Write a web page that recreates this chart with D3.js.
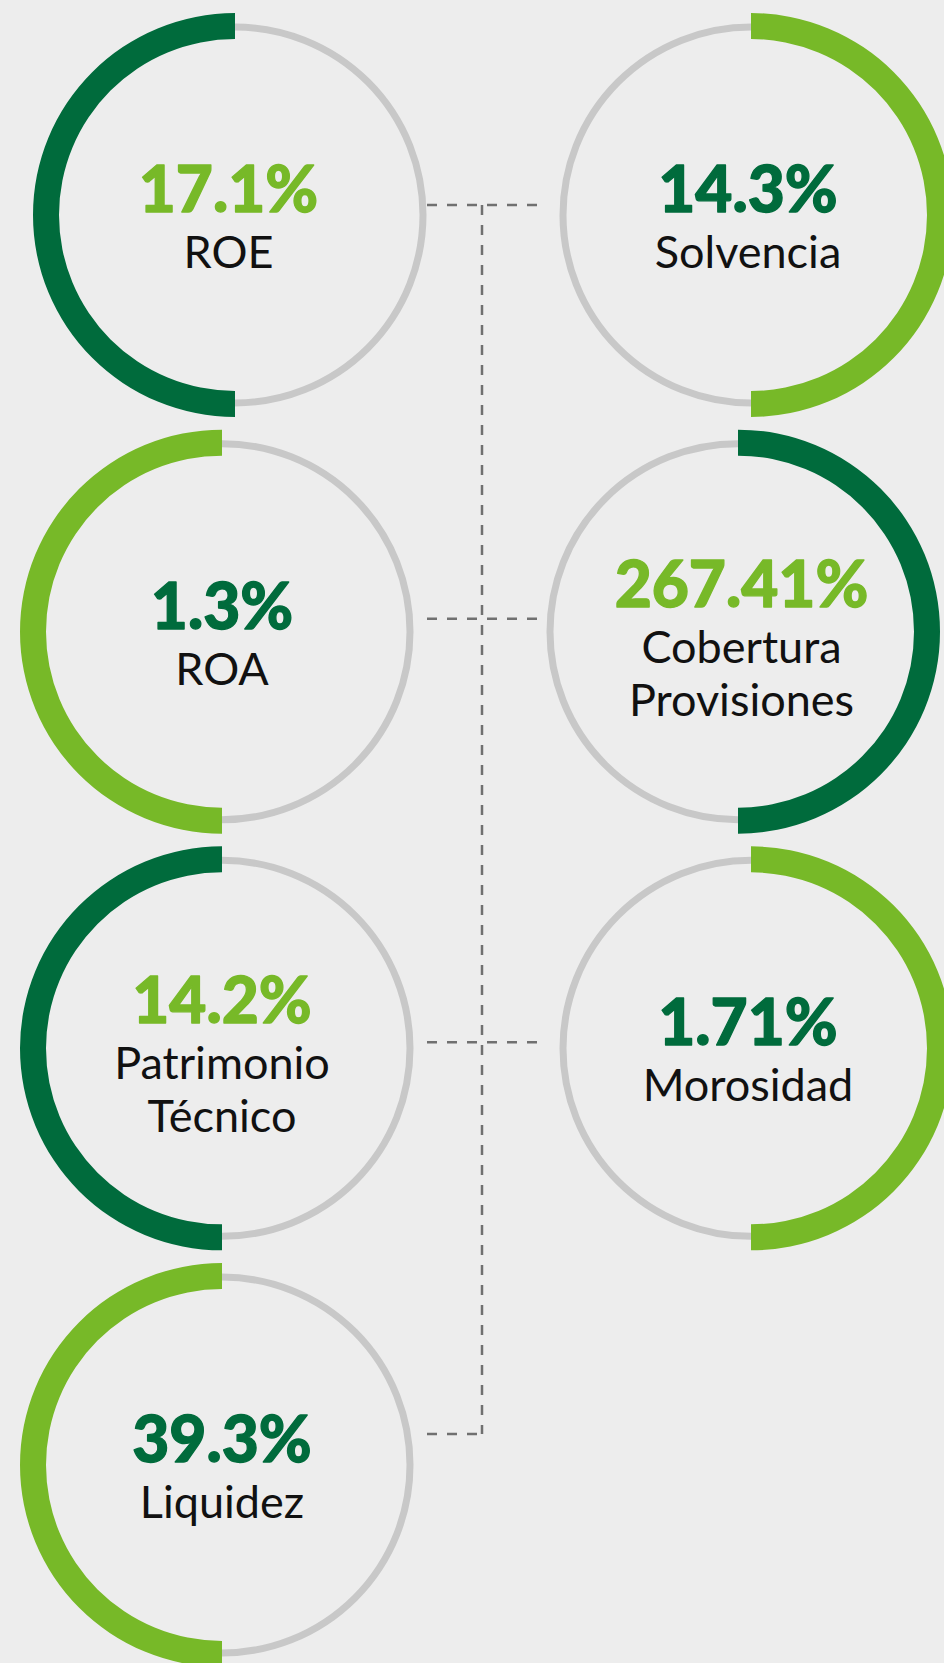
<!DOCTYPE html>
<html>
<head>
<meta charset="utf-8">
<script src="https://cdn.jsdelivr.net/npm/d3@7"></script>
<style>
    html, body { margin: 0; padding: 0; background: #ededed; }
    svg { display: block; }
</style>
</head>
<body>
<svg id="chart" width="944" height="1663"></svg>
<script>
// indicator data
const names = ['ROE', 'Solvencia', 'ROA', 'Cobertura\nProvisiones', 'Patrimonio\nTécnico', 'Morosidad', 'Liquidez'];
const values = [17.1, 14.3, 1.3, 267.41, 14.2, 1.71, 39.3];
const columns = ['left', 'right', 'left', 'right', 'left', 'right', 'left'];
const rows = [0, 0, 1, 1, 2, 2, 3];
const arcTone = ['dark', 'light', 'light', 'dark', 'dark', 'light', 'light'];

// layout
const width = 944;
const height = 1663;
const nudgeX = [13, 6, 0, -7, 0, 6, 0];
const linkOffset = [-10, -13, -6, -31];

const colors = { dark: '#006b3c', light: '#77b928' };
const other = { dark: 'light', light: 'dark' };

const svg = d3.select('#chart');

const x = d3.scaleOrdinal()
    .domain(['left', 'right'])
    .range([222, 745]);
const y = d3.scaleLinear()
    .domain([0, 3])
    .range([215, 1465]);

const ringR = 188;
const halfArc = d3.arc()
    .innerRadius(176)
    .outerRadius(202);

// dashed connector
const links = svg.append('g')
    .attr('fill', 'none')
    .attr('stroke', '#707070')
    .attr('stroke-width', 2.5)
    .attr('stroke-dasharray', '10,10');

const linkX0 = x('left') + 205;
const linkXm = (x('left') + x('right')) / 2 - 1.5;
const linkX1 = x('right') - 202;

links.append('path')
    .attr('d', `M${linkXm},${y(0) + linkOffset[0]}V${y(3) + linkOffset[3]}`);

d3.range(4).forEach((r) => {
    const ly = y(r) + linkOffset[r];
    const hasRight = rows.some((d, i) => d === r && columns[i] === 'right');
    links.append('path')
        .attr('d', `M${linkX0},${ly}H${hasRight ? linkX1 : linkXm}`);
});

const items = names.map((name, i) => ({
    lines: name.split('\n'),
    value: values[i],
    col: columns[i],
    row: rows[i],
    tone: arcTone[i],
    dx: nudgeX[i],
}));

const g = svg.append('g')
    .selectAll('g')
    .data(items)
    .join('g')
    .attr('transform', (d) => `translate(${x(d.col) + d.dx},${y(d.row)})`);

g.append('circle')
    .attr('r', ringR)
    .attr('fill', 'none')
    .attr('stroke', '#c8c8c8')
    .attr('stroke-width', 7);

g.append('path')
    .attr('fill', (d) => colors[d.tone])
    .attr('d', (d) => (d.col === 'left'
        ? halfArc({ startAngle: Math.PI, endAngle: 2 * Math.PI })
        : halfArc({ startAngle: 0, endAngle: Math.PI })));

const valueY = (d) => -3 - (d.lines.length - 1) * 22;

g.append('text')
    .attr('text-anchor', 'middle')
    .attr('x', (d) => -d.dx / 2)
    .attr('y', valueY)
    .attr('font-family', 'Lato, sans-serif')
    .attr('font-weight', 900)
    .attr('font-size', 64)
    .attr('fill', (d) => colors[other[d.tone]])
    .attr('stroke', (d) => colors[other[d.tone]])
    .attr('stroke-width', 1.3)
    .attr('stroke-linejoin', 'round')
    .text((d) => `${d.value}%`);

g.each(function addLabel(d) {
    const base = valueY(d);
    d3.select(this).append('text')
        .attr('text-anchor', 'middle')
        .attr('font-family', 'Lato, sans-serif')
        .attr('font-size', 45)
        .attr('fill', '#111')
        .selectAll('tspan')
        .data(d.lines)
        .join('tspan')
        .attr('x', -d.dx / 2)
        .attr('y', (t, k) => base + 56 + k * 53)
        .text((t) => t);
});
</script>
</body>
</html>
